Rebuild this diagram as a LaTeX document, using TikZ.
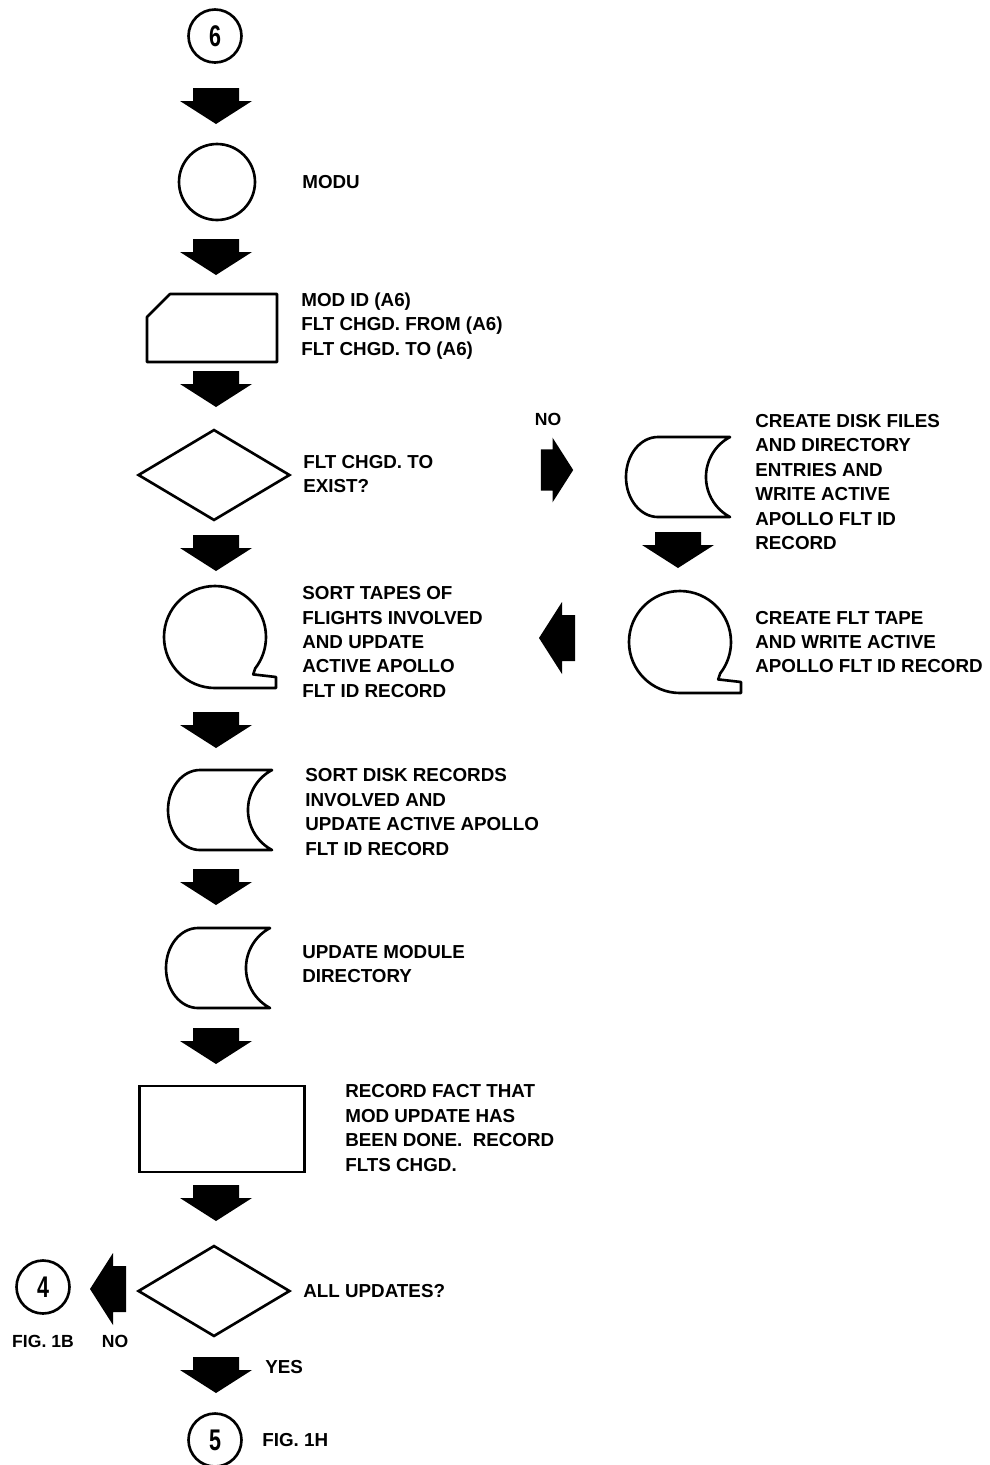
\documentclass[tikz,border=0pt]{standalone}
\usepackage{fontspec}
\setmainfont{Liberation Sans}
\newfontfamily\digitfont[FakeStretch=0.72]{Liberation Sans}
\usepackage{tikz}
\usetikzlibrary{
  shapes.geometric,
  positioning,
  calc
}
\tikzstyle{flowline} = [line width=1.5pt, line join=round]
\tikzstyle{connbox} = [
  circle, draw, line width=1.5pt, minimum size=1.06cm, inner sep=0pt,
  font=\digitfont\bfseries\fontsize{17}{17}\selectfont
]
\tikzstyle{procbox} = [
  rectangle, draw, line width=1.5pt, minimum width=3.3cm, minimum height=1.72cm
]
\tikzstyle{decbox} = [
  diamond, draw, line width=1.5pt, minimum width=3.04cm, minimum height=1.82cm,
  inner sep=0pt
]
\tikzstyle{labeltext} = [
  anchor=west, align=left, inner sep=0pt,
  font=\bfseries\fontsize{10.7}{13.9}\selectfont
]
\tikzstyle{smalltext} = [
  inner sep=0pt, font=\bfseries\fontsize{10}{12}\selectfont
]
\tikzset{
  fatarrow/.pic={
    \fill (-23,18) -- (23,18) -- (23,5) -- (36,5) -- (0,-18) -- (-36,5) -- (-23,5) -- cycle;
  },
  cardshape/.pic={
    \draw[flowline] (-42,34) -- (65,34) -- (65,-34) -- (-65,-34) -- (-65,11) -- cycle;
  },
  diskshape/.pic={
    \draw[flowline] (52,40) -- (-20,40) arc[start angle=90, end angle=270, x radius=32, y radius=40]
      -- (52,-40) arc[start angle=242, end angle=118, radius=45.3] -- cycle;
  },
  tapeshape/.pic={
    \draw[flowline] (0,-51) arc[start angle=-90, end angle=-398, radius=51]
      -- ++(-2,-6) -- (61,-40) -- (61,-51) -- cycle;
  }
}

\begin{document}
\begin{tikzpicture}[x=0.02cm, y=0.02cm]
\useasboundingbox (0,0) rectangle (990,-1465);

% --- Main column ---
\node[connbox] (conn6) at (215,-36) {6};
\pic at (216,-106) {fatarrow};
\node[circle, draw, line width=1.5pt, minimum size=1.52cm] (modu) at (217,-182) {};
\node[labeltext] (modutxt) at (302,-182) {MODU};
\pic at (216,-257) {fatarrow};

\pic (card) at (212,-328) {cardshape};
\node[labeltext] (cardtxt) at (301,-326) {MOD ID (A6)\\FLT CHGD. FROM (A6)\\FLT CHGD. TO (A6)};
\pic at (216,-389) {fatarrow};

\node[decbox] (exist) at (214,-475) {};
\node[labeltext] (existtxt) at (303,-474) {FLT CHGD. TO\\EXIST?};
\pic at (216,-553) {fatarrow};

\pic (sorttape) at (215,-637) {tapeshape};
\node[labeltext] (sorttapetxt) at (302,-642) {SORT TAPES OF\\FLIGHTS INVOLVED\\AND UPDATE\\ACTIVE APOLLO\\FLT ID RECORD};
\pic at (216,-730) {fatarrow};

\pic (sortdisk) at (220,-810) {diskshape};
\node[labeltext] (sortdisktxt) at (305,-812) {SORT DISK RECORDS\\INVOLVED AND\\UPDATE ACTIVE APOLLO\\FLT ID RECORD};
\pic at (216,-887) {fatarrow};

\pic (moddir) at (218,-968) {diskshape};
\node[labeltext] (moddirtxt) at (302,-964) {UPDATE MODULE\\DIRECTORY};
\pic at (216,-1046) {fatarrow};

\node[procbox] (recfact) at (222,-1129) {};
\node[labeltext] (recfacttxt) at (345,-1128) {RECORD FACT THAT\\MOD UPDATE HAS\\BEEN DONE.\ \ RECORD\\FLTS CHGD.};
\pic at (216,-1203) {fatarrow};

\node[decbox] (allupd) at (214,-1291) {};
\node[labeltext] (allupdtxt) at (303,-1291) {ALL UPDATES?};

% --- Exits ---
\pic[rotate=-90] at (108,-1289) {fatarrow};
\node[connbox] (conn4) at (43,-1287) {4};
\node[smalltext] (fig1b) at (43,-1341) {FIG. 1B};
\node[smalltext] (no2) at (115,-1341) {NO};

\pic at (216,-1375) {fatarrow};
\node[labeltext] (yes) at (265,-1367) {YES};
\node[connbox] (conn5) at (215,-1440) {5};
\node[labeltext] (fig1h) at (262,-1440) {FIG. 1H};

% --- Branch for new flight ---
\node[smalltext] (no1) at (548,-419) {NO};
\pic[rotate=90, scale=0.9] at (557,-470) {fatarrow};

\pic (newdisk) at (678,-477) {diskshape};
\node[labeltext] (newdisktxt) at (755,-482) {CREATE DISK FILES\\AND DIRECTORY\\ENTRIES AND\\WRITE ACTIVE\\APOLLO FLT ID\\RECORD};
\pic at (678,-550) {fatarrow};

\pic (newtape) at (680,-642) {tapeshape};
\node[labeltext] (newtapetxt) at (755,-642) {CREATE FLT TAPE\\AND WRITE ACTIVE\\APOLLO FLT ID RECORD};
\pic[rotate=-90] at (557,-638) {fatarrow};

\end{tikzpicture}
\end{document}
